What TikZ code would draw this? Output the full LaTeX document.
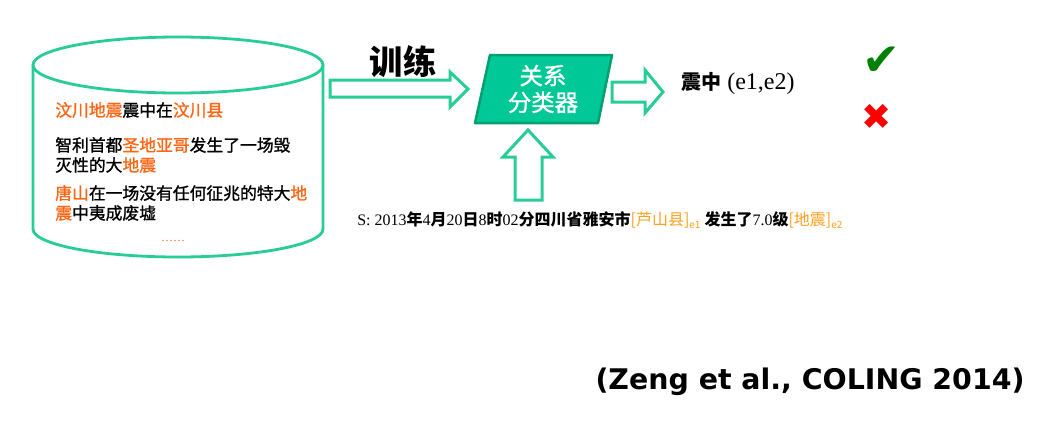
\documentclass[tikz,border=0pt]{standalone}
\usepackage{fontspec}
\setmainfont{Liberation Serif}
\newfontfamily\cjk{Noto Sans CJK SC}
\newfontfamily\cjkm[FakeBold=1.2]{Noto Sans CJK SC}
\newfontfamily\djs{DejaVu Sans}
\definecolor{tealline}{RGB}{40,205,150}
\definecolor{clffill}{RGB}{0,200,150}
\definecolor{clfdraw}{RGB}{0,160,112}
\definecolor{orA}{RGB}{255,102,20}
\definecolor{orB}{RGB}{255,160,30}
\definecolor{okgreen}{RGB}{0,128,0}
\newcommand{\zh}[1]{{\cjk\bfseries #1}}
\newcommand{\hl}[1]{\textcolor{orA}{#1}}
\newcommand{\hb}[1]{\textcolor{orB}{#1}}
\begin{document}
\begin{tikzpicture}[x=0.75pt,y=-0.75pt,
  cyl/.style={draw=tealline,line width=2.8pt*0.75},
  blockarrow/.style={draw=tealline,fill=white,line width=3pt*0.75,line join=miter},
  ln/.style={anchor=west,inner sep=0pt,font=\cjkm\fontsize{12.6}{14}\selectfont}]
\useasboundingbox (0,0) rectangle (1038,421);
\fill[white] (0,0) rectangle (1038,421);
% cylinder
\draw[cyl] (33,65) -- (33,229) arc[start angle=180,end angle=0,x radius=145,y radius=28] -- (323,65);
\draw[cyl] (178,65) ellipse[x radius=145,y radius=28];
\node[ln] (t1) at (55,110) {\hl{汶川地震}震中在\hl{汶川县}};
\node[ln] (t2) at (55,145) {智利首都\hl{圣地亚哥}发生了一场毁};
\node[ln] (t3) at (55,165) {灭性的大\hl{地震}};
\node[ln] (t4) at (55,193) {\hl{唐山}在一场没有任何征兆的特大\hl{地}};
\node[ln] (t5) at (55,213) {\hl{震}中夷成废墟};
\node[inner sep=0pt,font=\fontsize{9}{10}\selectfont,text=orA] (dots) at (173,241) {……};
% training arrow
\draw[blockarrow] (330,80) -- (450,80) -- (450,72) -- (468,89) -- (450,107) -- (450,97) -- (330,97) -- cycle;
\node[inner sep=0pt,font=\cjk\bfseries\fontsize{25}{28}\selectfont] (train) at (403,62) {训练};
% classifier
\draw[fill=clffill,draw=clfdraw,line width=2.5pt*0.75,line join=round] (490,55) -- (612,55) -- (598,123) -- (475,123) -- cycle;
\node[inner sep=0pt,align=center,text=white,font=\cjkm\fontsize{17.6}{20}\selectfont] (clf) at (543,89) {关系\\分类器};
% output arrow
\draw[blockarrow] (612,82) -- (645,82) -- (645,70) -- (663,92) -- (645,113) -- (645,102) -- (612,102) -- cycle;
% input arrow
\draw[blockarrow] (515,200) -- (515,157) -- (503,157) -- (528,130) -- (553,157) -- (542,157) -- (542,200) -- cycle;
% sentence
\node[anchor=west,inner sep=0pt,font=\fontsize{12}{14}\selectfont] (sent) at (357,220)
 {S: 2013\zh{年}4\zh{月}20\zh{日}8\zh{时}02\zh{分四川省雅安市}\hb{\cjk[芦山县]\raisebox{-0.4ex}{\fontsize{7.5}{8}\selectfont e1}} \zh{发生了}7.0\zh{级}\hb{\cjk[地震]\raisebox{-0.4ex}{\fontsize{7.5}{8}\selectfont e2}}};
% result
\node[anchor=west,inner sep=0pt,font=\fontsize{18}{20}\selectfont] (res) at (681,84) {{\cjk\bfseries\fontsize{15}{16}\selectfont 震中} (e1,e2)};
\node[inner sep=0pt,text=okgreen,font=\djs\fontsize{34}{36}\selectfont] (ok) at (881,61) {✔};
\node[inner sep=0pt,text=red,font=\djs\fontsize{27}{28}\selectfont] (no) at (877,117) {✖};
% citation
\node[inner sep=0pt,font=\djs\bfseries\fontsize{21.3}{24}\selectfont] (cite) at (810,382) {(Zeng et al., COLING 2014)};
\end{tikzpicture}
\end{document}
